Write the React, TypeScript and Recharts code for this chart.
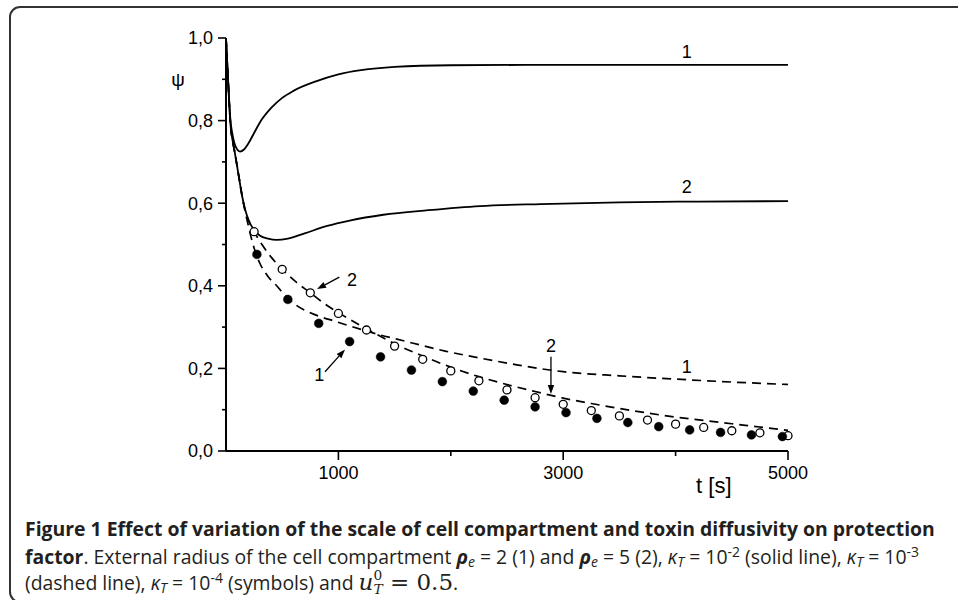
import React from 'react';
import { ComposedChart, Line, Scatter, XAxis, YAxis, ReferenceLine, ReferenceDot } from 'recharts';

// ---- data (t in seconds, psi = protection factor) ----
const solid1T = [0, 10, 20, 30, 40, 55, 75, 100, 125, 160, 200, 250, 300, 400, 500, 600, 800, 1000, 1200, 1500, 2000, 3000, 5000];
const solid1Psi = [1.0, 0.945, 0.89, 0.84, 0.8, 0.77, 0.745, 0.73, 0.725, 0.73, 0.745, 0.77, 0.795, 0.83, 0.855, 0.872, 0.895, 0.912, 0.922, 0.93, 0.934, 0.935, 0.935];

const solid2T = [0, 10, 20, 30, 40, 60, 80, 100, 120, 145, 170, 200, 250, 300, 375, 450, 550, 700, 900, 1100, 1400, 1800, 2260, 2800, 3500, 4200, 5000];
const solid2Psi = [1.0, 0.945, 0.89, 0.835, 0.79, 0.75, 0.72, 0.688, 0.655, 0.615, 0.585, 0.56, 0.535, 0.522, 0.514, 0.511, 0.514, 0.527, 0.545, 0.558, 0.572, 0.583, 0.593, 0.598, 0.602, 0.604, 0.605];

const dashed1T = [0, 10, 20, 30, 40, 60, 80, 100, 120, 145, 170, 195, 222, 260, 302, 370, 451, 540, 630, 730, 840, 960, 1075, 1220, 1370, 1520, 1665, 1950, 2260, 2600, 3000, 3500, 4000, 4500, 5000];
const dashed1Psi = [1.0, 0.945, 0.89, 0.835, 0.79, 0.75, 0.72, 0.688, 0.655, 0.615, 0.58, 0.55, 0.519, 0.483, 0.454, 0.424, 0.4, 0.373, 0.352, 0.337, 0.325, 0.315, 0.305, 0.293, 0.281, 0.271, 0.261, 0.242, 0.225, 0.208, 0.192, 0.182, 0.174, 0.167, 0.161];

const dashed2T = [0, 10, 20, 30, 40, 60, 80, 100, 120, 145, 170, 200, 250, 320, 400, 500, 620, 750, 870, 1000, 1250, 1500, 1750, 2000, 2250, 2500, 2750, 3000, 3250, 3500, 3750, 4000, 4250, 4500, 4750, 5000];
const dashed2Psi = [1.0, 0.945, 0.89, 0.835, 0.79, 0.75, 0.72, 0.688, 0.655, 0.615, 0.583, 0.558, 0.531, 0.5, 0.47, 0.44, 0.41, 0.383, 0.358, 0.335, 0.296, 0.26, 0.23, 0.203, 0.18, 0.161, 0.144, 0.128, 0.115, 0.103, 0.092, 0.082, 0.074, 0.066, 0.058, 0.05];

const openT = [250, 500, 750, 1000, 1250, 1500, 1750, 2000, 2250, 2500, 2750, 3000, 3250, 3500, 3750, 4000, 4250, 4500, 4750, 5000];
const openPsi = [0.531, 0.44, 0.383, 0.333, 0.293, 0.254, 0.222, 0.194, 0.17, 0.148, 0.129, 0.113, 0.098, 0.085, 0.075, 0.065, 0.057, 0.049, 0.044, 0.037];

const filledT = [275, 550, 825, 1100, 1375, 1650, 1925, 2200, 2475, 2750, 3025, 3300, 3575, 3850, 4125, 4400, 4675, 4950];
const filledPsi = [0.476, 0.367, 0.309, 0.265, 0.228, 0.196, 0.168, 0.145, 0.123, 0.107, 0.093, 0.079, 0.069, 0.059, 0.051, 0.045, 0.039, 0.035];

const xTicks = [1000, 2000, 3000, 4000, 5000];
const xTickLabels = ['1000', '', '3000', '', '5000'];
const yTicks = [0, 0.1, 0.2, 0.3, 0.4, 0.5, 0.6, 0.7, 0.8, 0.9, 1.0];
const yTickLabels = ['0,0', '', '0,2', '', '0,4', '', '0,6', '', '0,8', '', '1,0'];

const toRows = (ts: number[], ps: number[]) => ts.map((t, i) => ({ t, psi: ps[i] }));
const solid1 = toRows(solid1T, solid1Psi);
const solid2 = toRows(solid2T, solid2Psi);
const dashed1 = toRows(dashed1T, dashed1Psi);
const dashed2 = toRows(dashed2T, dashed2Psi);
const openPts = toRows(openT, openPsi);
const filledPts = toRows(filledT, filledPsi);

// curve labels (data coordinates)
const curveLabels = [
  { t: 4100, psi: 0.967, text: '1' },
  { t: 4100, psi: 0.64, text: '2' },
  { t: 4100, psi: 0.204, text: '1' },
  { t: 2891, psi: 0.256, text: '2' },
  { t: 1120, psi: 0.416, text: '2' },
  { t: 830, psi: 0.184, text: '1' },
];
const arrows = [
  { t1: 2891, p1: 0.228, t2: 2891, p2: 0.138 },
  { t1: 1008, p1: 0.421, t2: 810, p2: 0.392 },
  { t1: 881, p1: 0.192, t2: 1059, p2: 0.246 },
];

const FONT = '"Liberation Sans", Arial, sans-serif';
const Y_TICK_SIZE = 8;
const Y_TICK_MARGIN = 5;
const X_TICK_SIZE = 9;
const X_TICK_MARGIN = 6;

const YTick = (props: any) => {
  const { x, y, index } = props;
  const axisX = x + Y_TICK_SIZE + Y_TICK_MARGIN;
  const label = yTickLabels[index] ?? '';
  const major = label !== '';
  return (
    <g>
      <line x1={axisX} x2={axisX - (major ? 8 : 4)} y1={y} y2={y} stroke="#000" strokeWidth={1.6} />
      {major && (
        <text x={x} y={y} dy="0.36em" textAnchor="end" fontFamily={FONT} fontSize={18} fill="#000">
          {label}
        </text>
      )}
    </g>
  );
};

const XTick = (props: any) => {
  const { x, y, index } = props;
  const axisY = y - X_TICK_SIZE - X_TICK_MARGIN;
  const label = xTickLabels[index] ?? '';
  const major = label !== '';
  return (
    <g>
      <line x1={x} x2={x} y1={axisY} y2={axisY + (major ? 9 : 5)} stroke="#000" strokeWidth={1.6} />
      {major && (
        <text x={x} y={y} dy="0.71em" textAnchor="middle" fontFamily={FONT} fontSize={18} fill="#000">
          {label}
        </text>
      )}
    </g>
  );
};

const arrowShape = (p: any) => {
  const { x1, y1, x2, y2 } = p;
  const ang = Math.atan2(y2 - y1, x2 - x1);
  const L = 9;
  const W = 3.2;
  const bx = x2 - L * Math.cos(ang);
  const by = y2 - L * Math.sin(ang);
  const px = -Math.sin(ang) * W;
  const py = Math.cos(ang) * W;
  return (
    <g>
      <line x1={x1} y1={y1} x2={bx} y2={by} stroke="#000" strokeWidth={1.3} />
      <polygon points={`${x2},${y2} ${bx + px},${by + py} ${bx - px},${by - py}`} fill="#000" />
    </g>
  );
};

const openShape = (p: any) => <circle cx={p.cx} cy={p.cy} r={4} fill="#fff" stroke="#000" strokeWidth={1.3} />;
const filledShape = (p: any) => <circle cx={p.cx} cy={p.cy} r={4.4} fill="#000" stroke="#000" strokeWidth={0.5} />;

const it = { fontStyle: 'italic' as const };
const sub = { fontSize: '0.72em', verticalAlign: '-0.22em' };
const sup = { fontSize: '0.72em', verticalAlign: '0.5em' };
const SERIF = '"DejaVu Serif", "Liberation Serif", serif';
const lineStyle = { height: 23, lineHeight: '23px', overflow: 'visible' as const };

export default function App() {
  return (
    <div style={{ position: 'relative', width: 958, height: 600, overflow: 'hidden', background: '#fff' }}>
      <style>{`html,body{margin:0;padding:0;overflow:hidden;background:#fff}`}</style>
      <div
        style={{
          position: 'absolute',
          left: 9,
          top: 6,
          width: 1000,
          height: 593,
          border: '2px solid #333',
          borderRadius: 11,
          boxSizing: 'content-box',
        }}
      />
      <div style={{ position: 'absolute', left: 0, top: 0 }}>
        <ComposedChart width={958} height={600} margin={{ top: 38, right: 170, bottom: 0, left: 0 }}>
          <XAxis
            dataKey="t"
            type="number"
            domain={[0, 5000]}
            ticks={xTicks}
            allowDecimals={false}
            height={149}
            tickSize={X_TICK_SIZE}
            tickMargin={X_TICK_MARGIN}
            tickLine={false}
            tick={<XTick />}
            axisLine={{ stroke: '#000', strokeWidth: 2 }}
            interval={0}
            label={{
              content: (lp: any) => {
                const vb = lp.viewBox || {};
                return (
                  <text x={vb.x + vb.width * 0.868} y={vb.y + 42} textAnchor="middle" fontFamily={FONT} fontSize={22} fill="#000">
                    t [s]
                  </text>
                );
              },
            }}
          />
          <YAxis
            type="number"
            domain={[0, 1]}
            ticks={yTicks}
            width={226}
            tickSize={Y_TICK_SIZE}
            tickMargin={Y_TICK_MARGIN}
            tickLine={false}
            tick={<YTick />}
            axisLine={{ stroke: '#000', strokeWidth: 2 }}
            interval={0}
            label={{
              content: (lp: any) => {
                const vb = lp.viewBox || {};
                return (
                  <text x={vb.x + vb.width - 48} y={vb.y + 48} textAnchor="middle" fontFamily={FONT} fontSize={19} fill="#000">
                    ψ
                  </text>
                );
              },
            }}
          />
          <Line data={solid1} dataKey="psi" type="monotone" stroke="#000" strokeWidth={1.8} dot={false} isAnimationActive={false} />
          <Line data={solid2} dataKey="psi" type="monotone" stroke="#000" strokeWidth={1.8} dot={false} isAnimationActive={false} />
          <Line data={dashed1} dataKey="psi" type="monotone" stroke="#000" strokeWidth={1.7} strokeDasharray="9 6" dot={false} isAnimationActive={false} />
          <Line data={dashed2} dataKey="psi" type="monotone" stroke="#000" strokeWidth={1.7} strokeDasharray="9 6" dot={false} isAnimationActive={false} />
          <Scatter data={openPts} dataKey="psi" shape={openShape} isAnimationActive={false} />
          <Scatter data={filledPts} dataKey="psi" shape={filledShape} isAnimationActive={false} />
          {arrows.map((a, i) => (
            <ReferenceLine
              key={'a' + i}
              segment={[
                { x: a.t1, y: a.p1 },
                { x: a.t2, y: a.p2 },
              ]}
              shape={arrowShape}
              ifOverflow="visible"
            />
          ))}
          {curveLabels.map((l, i) => (
            <ReferenceDot
              key={'l' + i}
              x={l.t}
              y={l.psi}
              ifOverflow="visible"
              shape={(p: any) => (
                <text x={p.cx} y={p.cy} dy="0.36em" textAnchor="middle" fontFamily={FONT} fontSize={18} fill="#000">
                  {l.text}
                </text>
              )}
            />
          ))}
        </ComposedChart>
      </div>
      <div
        style={{
          position: 'absolute',
          left: 25,
          top: 517,
          width: 960,
          fontFamily: '"Open Sans", "Noto Sans", sans-serif',
          fontSize: 19.4,
          color: '#231f20',
          whiteSpace: 'nowrap',
        }}
      >
        <div style={{ ...lineStyle, fontWeight: 700 }}>
          Figure 1 Effect of variation of the scale of cell compartment and toxin diffusivity on protection
        </div>
        <div style={lineStyle}>
          <b>factor</b>. External radius of the cell compartment <b style={it}>ρ</b>
          <span style={{ ...it, ...sub }}>e</span> = 2 (1) and <b style={it}>ρ</b>
          <span style={{ ...it, ...sub }}>e</span> = 5 (2), <span style={it}>κ</span>
          <span style={{ ...it, ...sub }}>T</span> = 10<span style={sup}>-2</span> (solid line), <span style={it}>κ</span>
          <span style={{ ...it, ...sub }}>T</span> = 10<span style={sup}>-3</span>
        </div>
        <div style={{ ...lineStyle, position: 'relative', top: 1 }}>
          (dashed line), <span style={it}>κ</span>
          <span style={{ ...it, ...sub }}>T</span> = 10<span style={sup}>-4</span> (symbols) and{' '}
          <span style={{ fontFamily: SERIF, fontSize: 23 }}>
            <i>u</i>
            <span style={{ display: 'inline-block', width: 0, fontSize: '0.6em', verticalAlign: '0.7em' }}>0</span>
            <span style={{ fontSize: '0.6em', verticalAlign: '-0.3em', fontStyle: 'italic' }}>T</span> = 0.5
          </span>
          .
        </div>
      </div>
    </div>
  );
}
